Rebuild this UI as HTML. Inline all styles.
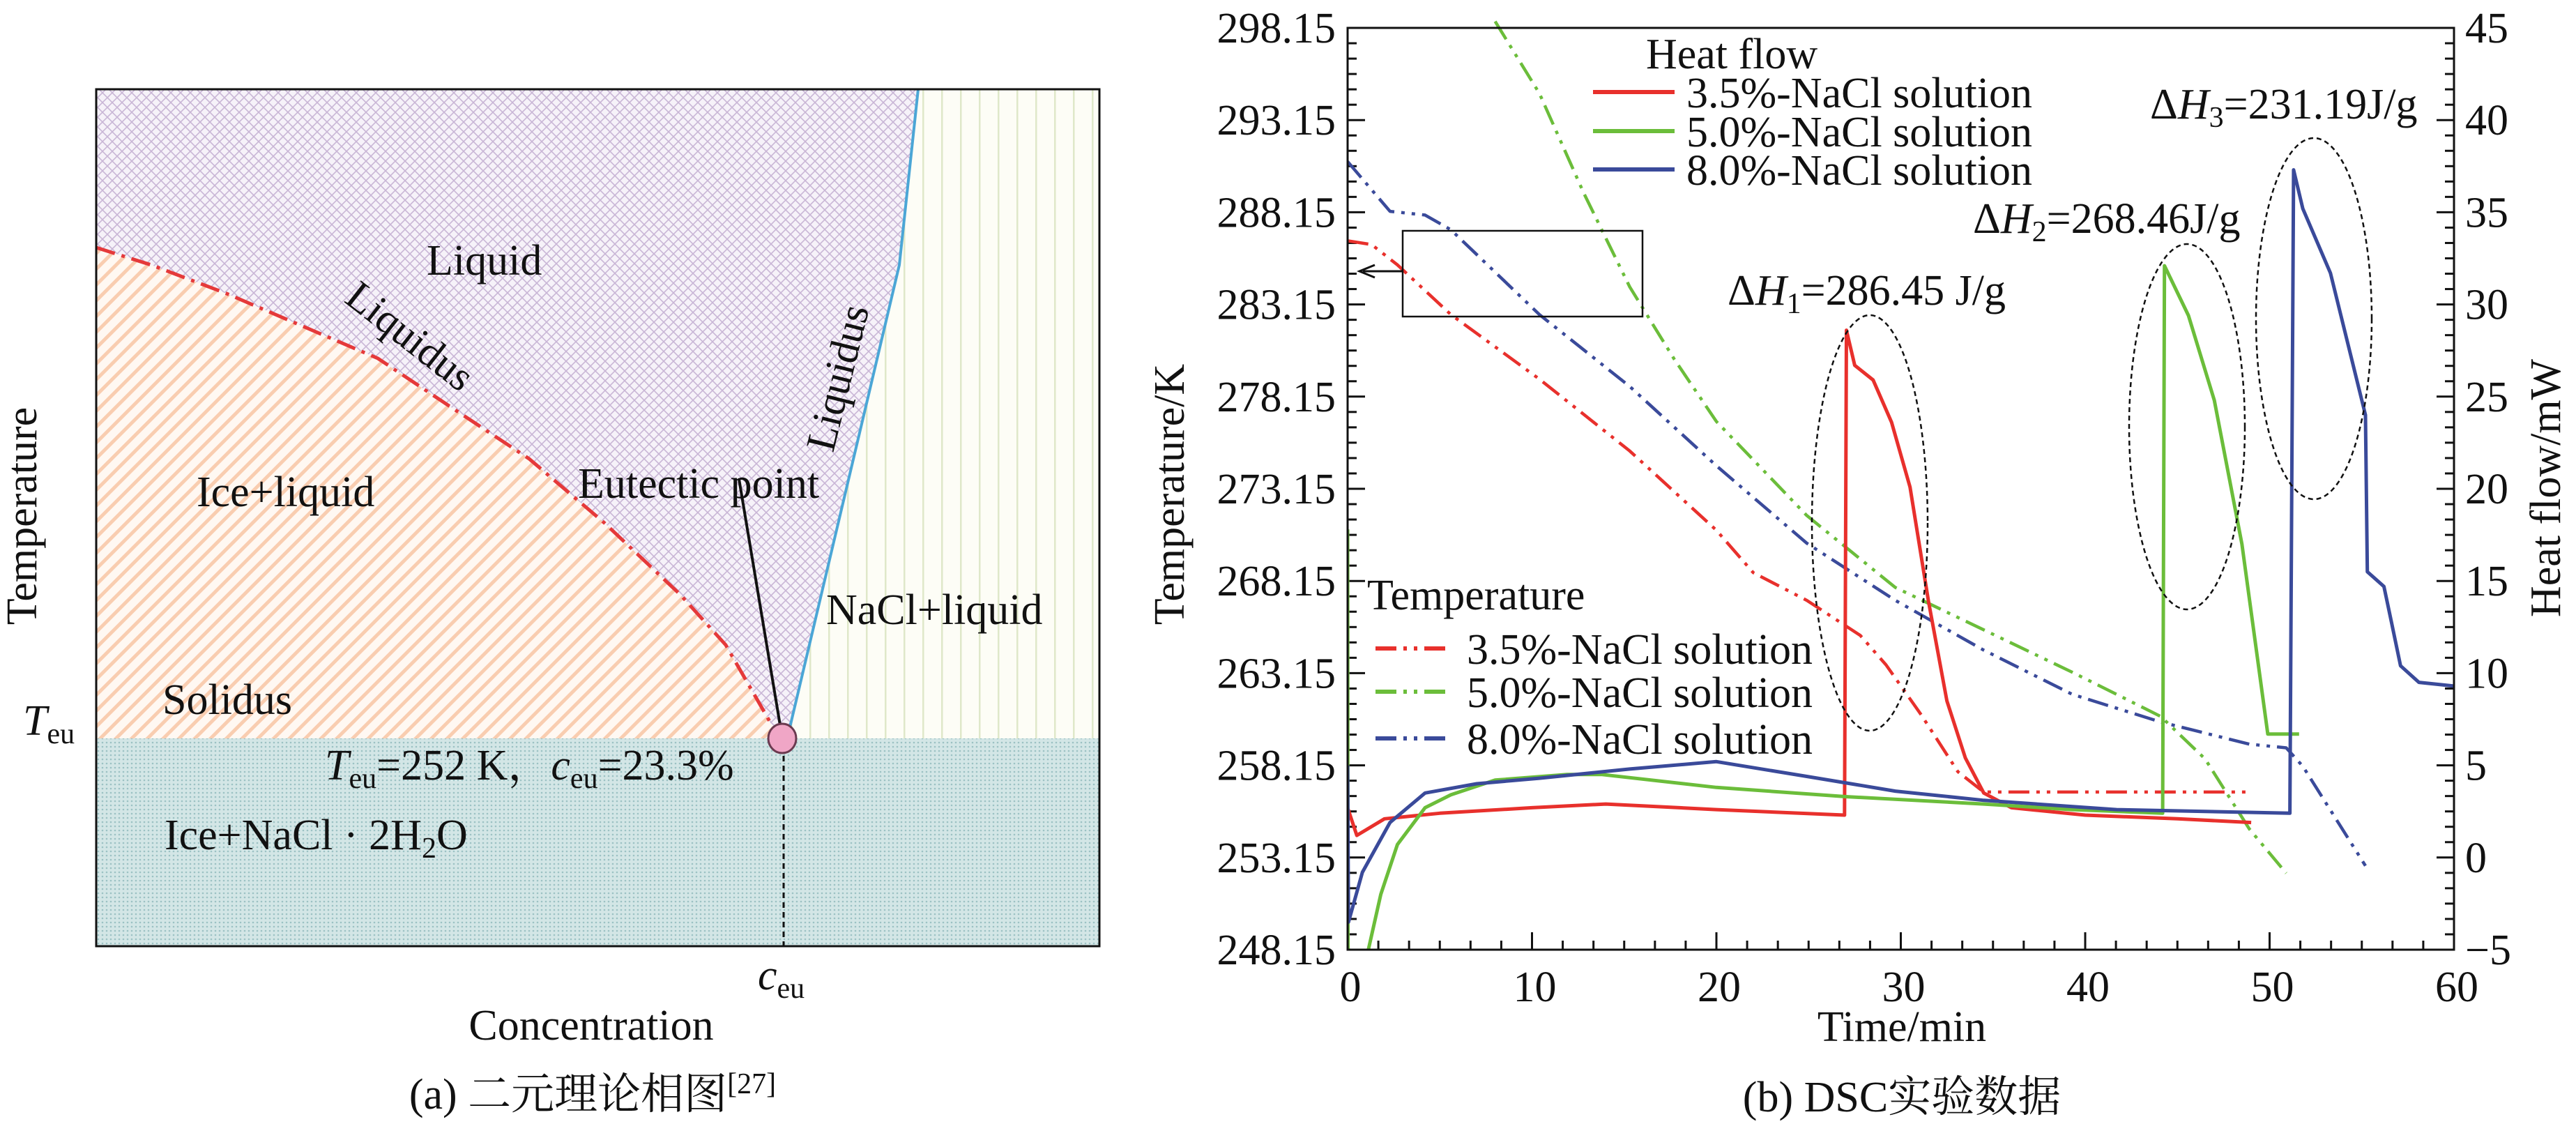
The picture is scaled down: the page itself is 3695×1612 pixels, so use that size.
<!DOCTYPE html>
<html><head><meta charset="utf-8"><style>
html,body{margin:0;padding:0;background:#fff}
svg{display:block}
text{font-family:"Liberation Serif","Noto Serif CJK SC",serif;fill:#111}
</style></head><body>
<svg id="root" width="3695" height="1612" viewBox="0 0 3695 1612" xmlns="http://www.w3.org/2000/svg">
<defs>
<pattern id="pCross" width="14" height="14" patternUnits="userSpaceOnUse">
<rect width="14" height="14" fill="#f6f2f9"/>
<path d="M0 0L14 14M14 0L0 14" stroke="#c9b6d6" stroke-width="1.6"/>
</pattern>
<pattern id="pOrange" width="16" height="16" patternUnits="userSpaceOnUse" patternTransform="rotate(45)">
<rect width="16" height="16" fill="#fff8f2"/>
<rect x="0" y="0" width="5" height="16" fill="#f9cdb0"/>
</pattern>
<pattern id="pTeal" width="6" height="6" patternUnits="userSpaceOnUse">
<rect width="6" height="6" fill="#d3e6e6"/>
<circle cx="3" cy="3" r="1.3" fill="#9cc2c4"/>
</pattern>
<pattern id="pVert" width="27" height="20" patternUnits="userSpaceOnUse">
<rect width="27" height="20" fill="#fdfdf6"/>
<rect x="0" width="2.5" height="20" fill="#dfe8c9"/>
</pattern>
</defs>

<!-- Panel (a) -->
<g>
<polygon fill="url(#pOrange)" points="138,355 217,380 325,421 542,514 650,586 759,658 867,750 976,853 1041,925 1106,1038 1124,1059 138,1059"/>
<polygon fill="url(#pCross)" points="138,128 1317,128 1290,380 1133,1043 1124,1059 1106,1038 1041,925 976,853 867,750 759,658 650,586 542,514 325,421 217,380 138,355"/>
<polygon fill="url(#pVert)" points="1317,128 1577,128 1577,1059 1124,1059 1133,1043 1290,380"/>
<rect x="138" y="1059" width="1439" height="298" fill="url(#pTeal)"/>
<polyline fill="none" stroke="#e5393a" stroke-width="5" stroke-dasharray="28,10,5,10" points="138,355 217,380 325,421 542,514 650,586 759,658 867,750 976,853 1041,925 1106,1038 1120,1055"/>
<polyline fill="none" stroke="#4ba6d6" stroke-width="4" points="1128,1055 1133,1043 1290,380 1317,128"/>
<line x1="1124" y1="1070" x2="1124" y2="1357" stroke="#111" stroke-width="3" stroke-dasharray="8,6"/>
<line x1="1060" y1="687" x2="1120" y2="1046" stroke="#111" stroke-width="4"/>
<ellipse cx="1122" cy="1059" rx="20" ry="21" fill="#f0a6c6" stroke="#6b3a50" stroke-width="3"/>
<rect x="138" y="128" width="1439" height="1229" fill="none" stroke="#111" stroke-width="3"/>
<text x="612" y="394" font-size="62">Liquid</text>
<text x="0" y="0" font-size="60" transform="translate(492,432) rotate(38)">Liquidus</text>
<text x="0" y="0" font-size="60" transform="translate(1195,650) rotate(-76)">Liquidus</text>
<text x="829" y="714" font-size="62">Eutectic point</text>
<text x="282" y="726" font-size="62">Ice+liquid</text>
<text x="1185" y="895" font-size="62">NaCl+liquid</text>
<text x="233" y="1024" font-size="62">Solidus</text>
<text x="33" y="1054" font-size="62"><tspan font-style="italic">T</tspan><tspan font-size="42" dy="12">eu</tspan></text>
<text x="466" y="1118" font-size="62"><tspan font-style="italic">T</tspan><tspan font-size="42" dy="12">eu</tspan><tspan dy="-12">=252 K，</tspan><tspan font-style="italic">c</tspan><tspan font-size="42" dy="12">eu</tspan><tspan dy="-12">=23.3%</tspan></text>
<text x="236" y="1218" font-size="62">Ice+NaCl · 2H<tspan font-size="42" dy="12">2</tspan><tspan dy="-12">O</tspan></text>
<text x="1087" y="1419" font-size="62"><tspan font-style="italic">c</tspan><tspan font-size="42" dy="12">eu</tspan></text>
<text x="848" y="1491" font-size="62" text-anchor="middle">Concentration</text>
<text x="0" y="0" font-size="62" text-anchor="middle" transform="translate(52,740) rotate(-90)">Temperature</text>
<text x="850" y="1590" font-size="62" text-anchor="middle">(a) 二元理论相图<tspan font-size="42" dy="-22">[27]</tspan></text>
</g>

<!-- Panel (b) -->
<g id="chartB"></g>
</svg>
<script>
const hfTime35=[0,0.5,2,5,10,14,20,26.95,27.05,27.5,28.5,29.5,30.5,31.5,32.5,33.5,34.5,36,40,45,49];
const hfVal35=[2.7,1.2,2.1,2.4,2.7,2.9,2.6,2.3,28.6,26.7,25.9,23.6,20.1,13.9,8.5,5.4,3.5,2.7,2.3,2.1,1.9];
const hfTime50=[0,0.02,1.06,1.8,2.7,4.2,5.6,8,11.9,13.8,20,27,34.5,39.3,44.2,44.3,45.6,47,48.5,49.9,51.6];
const hfVal50=[17.8,-5,-5.3,-2.0,0.7,2.7,3.4,4.2,4.5,4.5,3.8,3.3,2.9,2.6,2.4,32.1,29.4,24.8,17.0,6.7,6.7];
const hfTime80=[0,0.05,0.8,2.3,4.2,7,10.4,15.3,20,24.9,29.7,34.5,41.7,51.1,51.3,51.8,53.3,55.2,55.3,56.2,56.6,57.1,58.1,60];
const hfVal80=[5.0,-3.5,-0.8,1.9,3.5,4.0,4.3,4.8,5.2,4.4,3.6,3.1,2.6,2.4,37.3,35.2,31.7,24.0,15.5,14.7,12.8,10.4,9.5,9.3];
const tTime35=[0,1.3,2.7,5.6,10.4,15.3,20,22,24.9,27.8,29.2,31.1,33.1,34.5,48.9];
const tVal35=[286.6,286.4,285.3,282.6,279.1,275.2,270.9,268.6,267.1,265.2,263.6,260.9,257.8,256.7,256.7];
const tTime50=[8,10.4,12.8,15.3,17.7,20,24.9,29.7,34.5,39.3,44.1,46.5,48.9,50.9];
const tVal50=[298.5,294.6,289.2,284.1,280.2,276.8,271.7,267.8,265.5,263.2,260.8,258.5,254.7,252.3];
const tTime80=[0,2.3,4.2,5.6,10.4,15.3,20,24.9,29.7,34.5,39.3,44.1,48.9,50.9,51.8,55.2];
const tVal80=[290.9,288.2,288.0,287.2,282.6,278.7,274.4,270.2,267.1,264.4,262.0,260.5,259.3,259.1,258.1,252.7];
const xTicks=[0,10,20,30,40,50,60];
const yLeftTicks=[248.15,253.15,258.15,263.15,268.15,273.15,278.15,283.15,288.15,293.15,298.15];
const yRightTicks=[-5,0,5,10,15,20,25,30,35,40,45];

const NS="http://www.w3.org/2000/svg";
const g=document.getElementById('chartB');
const X0=1933,X1=3520,Y0=40,Y1=1362;
const sx=t=>X0+(t-0)/(60-0)*(X1-X0);
const syT=v=>Y1-(v-248.15)/(298.15-248.15)*(Y1-Y0);
const syH=v=>Y1-(v+5)/(45+5)*(Y1-Y0);
function mk(tag,attrs,parent){const e=document.createElementNS(NS,tag);for(const k in attrs)e.setAttribute(k,attrs[k]);(parent||g).appendChild(e);return e;}

const clip=mk('clipPath',{id:'plotClip'});
mk('rect',{x:X0,y:Y0-25,width:X1-X0,height:Y1-Y0+25},clip);

for(let i=0;i<=36;i++){const t=i*60/36;const major=i%6===0;
 const l=mk('line',{x1:sx(t),x2:sx(t),y1:Y1,y2:Y1-(major?25:13),stroke:'#111','stroke-width':3});
 
 }
xTicks.forEach(t=>{const e=mk('text',{x:sx(t)+4,y:1436,'font-size':62,'text-anchor':'middle'});e.textContent=t;
 
 });
for(let i=0;i<=60;i++){const v=248.15+i*50/60;const major=i%6===0;const y=syT(v);
 const l1=mk('line',{x1:X0,x2:X0+(major?25:13),y1:y,y2:y,stroke:'#111','stroke-width':3});
 
 
 const l2=mk('line',{x1:X1,x2:X1-(major?25:13),y1:y,y2:y,stroke:'#111','stroke-width':3});
 
 }
yLeftTicks.forEach(v=>{const e=mk('text',{x:1916,y:syT(v)+21,'font-size':62,'text-anchor':'end'});e.textContent=v.toFixed(2);
 
 });
yRightTicks.forEach(v=>{const e=mk('text',{x:3536,y:syH(v)+21,'font-size':62});e.textContent=v<0?'\u2212'+(-v):v;
 
 });

function series(ts,vs,sy,color,dash,name){
 const d=ts.map((t,i)=>(i?'L':'M')+sx(t).toFixed(1)+' '+sy(vs[i]).toFixed(1)).join(' ');
 const p=mk('path',{d:d,fill:'none',stroke:color,'stroke-width':dash?4.5:5,'stroke-linejoin':'round','clip-path':'url(#plotClip)'});
 if(dash)p.setAttribute('stroke-dasharray','30,10,5,10,5,10');
 
 }
const RED='#e8302c',GRN='#6bbd3a',BLU='#3a4a9a';
series(tTime35,tVal35,syT,RED,true,'temp-line-3-5');
series(tTime50,tVal50,syT,GRN,true,'temp-line-5-0');
series(tTime80,tVal80,syT,BLU,true,'temp-line-8-0');
series(hfTime35,hfVal35,syH,RED,false,'heatflow-line-3-5');
series(hfTime50,hfVal50,syH,GRN,false,'heatflow-line-5-0');
series(hfTime80,hfVal80,syH,BLU,false,'heatflow-line-8-0');

const fr=mk('rect',{x:X0,y:Y0,width:X1-X0,height:Y1-Y0,fill:'none',stroke:'#111','stroke-width':3});



[[2682,750,83,298,'peak-ellipse-1'],[3137,612,83,262,'peak-ellipse-2'],[3319,457,83,259,'peak-ellipse-3']].forEach(a=>{
 const e=mk('ellipse',{cx:a[0],cy:a[1],rx:a[2],ry:a[3],fill:'none',stroke:'#111','stroke-width':2.5,'stroke-dasharray':'7,5'});
 
 });
const box=mk('rect',{x:2012,y:331,width:344,height:123,fill:'none',stroke:'#111','stroke-width':2.5});


const ar=mk('path',{d:'M2012 389 L1955 389 M1972 380 L1950 389 L1972 398',fill:'none',stroke:'#111','stroke-width':3});



function txt(x,y,s,html,name,extra){const e=mk('text',Object.assign({x:x,y:y,'font-size':s},extra||{}));e.innerHTML=html;
 
 return e;}
txt(2478,437,62,'Δ<tspan font-style="italic">H</tspan><tspan font-size="42" dy="12">1</tspan><tspan dy="-12">=286.45 J/g</tspan>','annotation-dh1');
txt(2830,334,62,'Δ<tspan font-style="italic">H</tspan><tspan font-size="42" dy="12">2</tspan><tspan dy="-12">=268.46J/g</tspan>','annotation-dh2');
txt(3084,170,62,'Δ<tspan font-style="italic">H</tspan><tspan font-size="42" dy="12">3</tspan><tspan dy="-12">=231.19J/g</tspan>','annotation-dh3');

txt(2361,98,62,'Heat flow','legend-heatflow-title');
[[132,RED,'3.5%-NaCl solution'],[188,GRN,'5.0%-NaCl solution'],[243,BLU,'8.0%-NaCl solution']].forEach(a=>{
 const l=mk('line',{x1:2285,x2:2402,y1:a[0],y2:a[0],stroke:a[1],'stroke-width':6});
 
 
 txt(2419,a[0]+22,62,a[2],'legend-heatflow-entry');});
txt(1961,874,62,'Temperature','legend-temperature-title');
[[930,RED,'3.5%-NaCl solution'],[992,GRN,'5.0%-NaCl solution'],[1059,BLU,'8.0%-NaCl solution']].forEach(a=>{
 const l=mk('line',{x1:1973,x2:2082,y1:a[0],y2:a[0],stroke:a[1],'stroke-width':6,'stroke-dasharray':'30,10,5,10,5,10'});
 
 
 txt(2104,a[0]+22,62,a[2],'legend-temperature-entry');});

txt(2728,1493,62,'Time/min','x-axis-title',{'text-anchor':'middle'});
txt(0,0,62,'Temperature/K','y-left-axis-title',{'text-anchor':'middle',transform:'translate(1698,709) rotate(-90)'});
txt(0,0,62,'Heat flow/mW','y-right-axis-title',{'text-anchor':'middle',transform:'translate(3672,700) rotate(-90)'});
txt(2728,1594,62,'(b) DSC实验数据','caption-b',{'text-anchor':'middle'});
</script>
</body></html>
